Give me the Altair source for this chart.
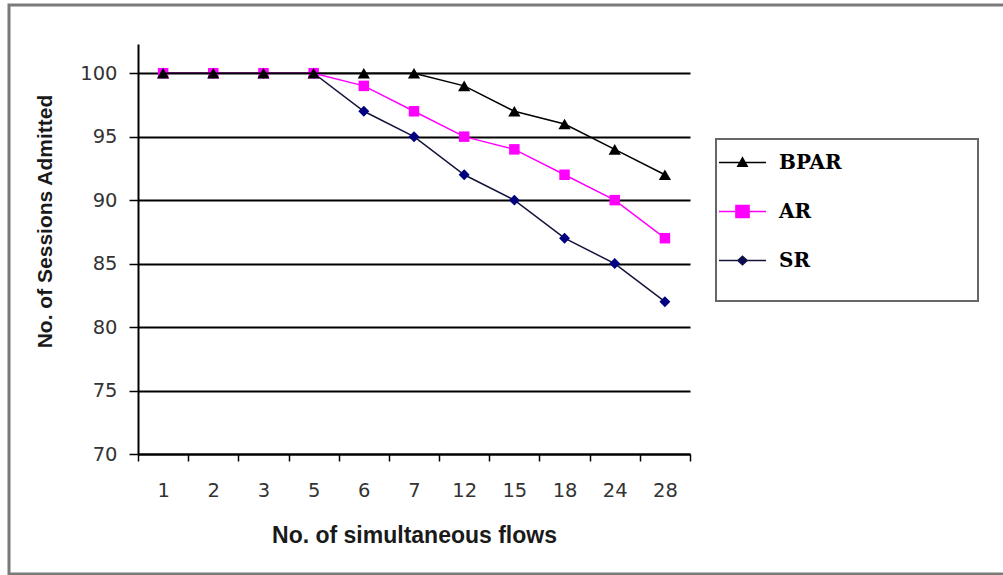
import altair as alt
import pandas as pd

# Number of simultaneous flows (categorical x axis)
flows = ["1", "2", "3", "5", "6", "7", "12", "15", "18", "24", "28"]

# Sessions admitted for each admission scheme
bpar = [100, 100, 100, 100, 100, 100, 99, 97, 96, 94, 92]
ar = [100, 100, 100, 100, 99, 97, 95, 94, 92, 90, 87]
sr = [100, 100, 100, 100, 97, 95, 92, 90, 87, 85, 82]

series_names = ["BPAR", "AR", "SR"]
line_colors = ["#000000", "#ff00ff", "#14143a"]
marker_colors = ["#000000", "#ff00ff", "#000080"]
marker_shapes = ["triangle-up", "square", "diamond"]
marker_sizes = [150, 110, 120]
y_ticks = [70, 75, 80, 85, 90, 95, 100]

# Legend glyphs: a short line segment with the series marker in the middle
legend_paths = [
    "M-1,0H1M0,-0.2L0.2,0.16L-0.2,0.16Z",
    "M-1,0H1M-0.28,-0.26H0.28V0.26H-0.28Z",
    "M-1,0H1M0,-0.18L0.2,0L0,0.18L-0.2,0Z",
]

values = {"BPAR": bpar, "AR": ar, "SR": sr}
rows = []
for name in series_names:
    for f, v in zip(flows, values[name]):
        rows.append({"flows": f, "sessions": v, "series": name})
df = pd.DataFrame(rows)

W, H = 552, 410

x_enc = alt.X(
    "flows:N",
    sort=flows,
    scale=alt.Scale(type="band", domain=flows, paddingInner=0, paddingOuter=0),
    axis=alt.Axis(
        title="No. of simultaneous flows",
        titleFont="Liberation Sans",
        titleFontSize=23,
        titleFontWeight="bold",
        titleColor="#1a1a1a",
        titleY=81,
        titleBaseline="middle",
        labelFont="DejaVu Sans",
        labelFontSize=19.5,
        labelColor="#333333",
        labelAngle=0,
        labelPadding=20,
        tickBand="extent",
        tickSize=7,
        tickColor="#000000",
        tickWidth=1.5,
        domainColor="#000000",
        domainWidth=2,
        grid=False,
    ),
)

y_enc = alt.Y(
    "sessions:Q",
    scale=alt.Scale(domain=[70, 102.3], nice=False, zero=False),
    axis=alt.Axis(
        values=y_ticks,
        title="No. of Sessions Admitted",
        titleFont="Liberation Sans",
        titleFontSize=21,
        titleFontWeight="bold",
        titleColor="#1a1a1a",
        titleX=-93,
        titleY=177,
        titleBaseline="middle",
        labelFont="DejaVu Sans",
        labelFontSize=19.5,
        labelColor="#333333",
        labelPadding=12,
        tickSize=9,
        tickColor="#000000",
        tickWidth=1.5,
        domainColor="#000000",
        domainWidth=2,
        grid=True,
        gridColor="#000000",
        gridWidth=2,
    ),
)

layers = []

# Outer frame around the whole figure
frame = alt.Chart(pd.DataFrame({"frame": [0]})).mark_rect(
    fillOpacity=0, stroke="#7a7a7a", strokeWidth=3
).encode(
    x=alt.value(-129), x2=alt.value(880), y=alt.value(-39), y2=alt.value(530)
)
layers.append(frame)

# Draw SR first so BPAR sits on top where the series overlap
for name in ["SR", "AR", "BPAR"]:
    i = series_names.index(name)
    sub = alt.Chart(df).transform_filter(alt.datum.series == name)
    layers.append(
        sub.mark_line(color=line_colors[i], strokeWidth=1.5).encode(x=x_enc, y=y_enc)
    )
    layers.append(
        sub.mark_point(
            filled=True,
            opacity=1,
            color=marker_colors[i],
            shape=marker_shapes[i],
            size=marker_sizes[i],
        ).encode(x=x_enc, y=y_enc)
    )

# Legend box
legend_box = alt.Chart(pd.DataFrame({"box": [0]})).mark_rect(
    fillOpacity=0, stroke="#666666", strokeWidth=2
).encode(
    x=alt.value(578), x2=alt.value(840), y=alt.value(95), y2=alt.value(257)
)
layers.append(legend_box)

legend_def = alt.Legend(
    title=None,
    orient="none",
    legendX=580,
    legendY=94,
    padding=0,
    symbolSize=2209,
    symbolStrokeWidth=1.5,
    labelFont="DejaVu Serif",
    labelFontWeight="bold",
    labelFontSize=20,
    labelColor="#000000",
    labelOffset=12,
    rowPadding=14,
)

# Legend-only layer: no marks, explicit domains feed the legend
legend_layer = alt.Chart(df).transform_filter("false").mark_point(
    filled=True, opacity=1
).encode(
    fill=alt.Fill(
        "series:N",
        scale=alt.Scale(domain=series_names, range=marker_colors),
        legend=legend_def,
    ),
    stroke=alt.Stroke(
        "series:N",
        scale=alt.Scale(domain=series_names, range=line_colors),
        legend=legend_def,
    ),
    shape=alt.Shape(
        "series:N",
        scale=alt.Scale(domain=series_names, range=legend_paths),
        legend=legend_def,
    ),
)
layers.append(legend_layer)

chart = alt.layer(*layers).properties(
    width=W,
    height=H,
    autosize=alt.AutoSizeParams(type="none"),
    padding={"left": 138, "top": 44, "right": 313, "bottom": 121},
    background="#ffffff",
).configure_view(stroke=None)

chart.save("out.html", embed_options={"renderer": "svg", "actions": False})
